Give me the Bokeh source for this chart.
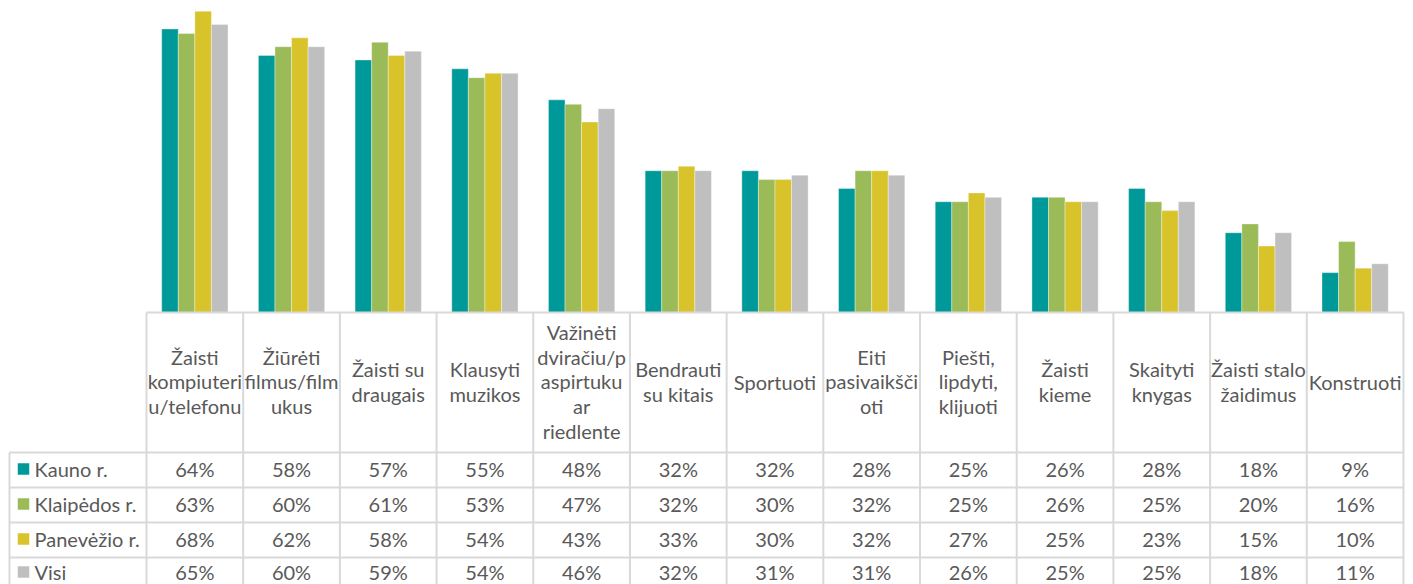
import numpy as np
from bokeh.plotting import figure
from bokeh.models import Range1d
from bokeh.core.properties import value
from bokeh.embed import file_html
from bokeh.resources import INLINE

categories = [
    "Žaisti\nkompiuteri\nu/telefonu",
    "Žiūrėti\nfilmus/film\nukus",
    "Žaisti su\ndraugais",
    "Klausyti\nmuzikos",
    "Važinėti\ndviračiu/p\naspirtuku\nar\nriedlente",
    "Bendrauti\nsu kitais",
    "Sportuoti",
    "Eiti\npasivaikšči\noti",
    "Piešti,\nlipdyti,\nklijuoti",
    "Žaisti\nkieme",
    "Skaityti\nknygas",
    "Žaisti stalo\nžaidimus",
    "Konstruoti",
]
series_names = ["Kauno r.", "Klaipėdos r.", "Panevėžio r.", "Visi"]
kauno = [64, 58, 57, 55, 48, 32, 32, 28, 25, 26, 28, 18, 9]
klaipedos = [63, 60, 61, 53, 47, 32, 30, 32, 25, 26, 25, 20, 16]
panevezio = [68, 62, 58, 54, 43, 33, 30, 32, 27, 25, 23, 15, 10]
visi = [65, 60, 59, 54, 46, 32, 31, 31, 26, 25, 25, 18, 11]
colors = ["#009999", "#9BBB59", "#D9C32A", "#BFBFBF"]

series = [kauno, klaipedos, panevezio, visi]

W, H = 1413, 584
col_w = 96.69                 # px per category column
left_px = 146                 # px from figure left to first column
x0 = -left_px / col_w
x1 = x0 + W / col_w
base_px = 312                 # baseline px from figure top
k = 4.43                      # px per percent
y0 = -(H - base_px) / k
y1 = base_px / k

FONT = value("Lato")
FS = "20px"
TXT = "#595959"
LINE = "#D9D9D9"

p = figure(width=W, height=H, x_range=Range1d(x0, x1), y_range=Range1d(y0, y1),
           output_backend="svg", toolbar_location=None,
           x_axis_type=None, y_axis_type=None, min_border=0)
p.outline_line_color = None
p.background_fill_color = "white"
p.border_fill_color = "white"
p.extra_y_ranges = {"tbl": Range1d(H, 0)}

n = len(categories)
idx = np.arange(n)
bw = 0.1714
for j, (vals, c) in enumerate(zip(series, colors)):
    xs = idx + 0.5 + (j - 1.5) * bw
    p.vbar(x=xs, top=vals, bottom=0, width=bw, fill_color=c,
           line_color="white", line_width=0.6, line_alpha=0.6)

# table geometry (in "tbl" pixel range)
header_top = base_px
row_h = 35
header_bot = 452
row_tops = [header_bot + i * row_h for i in range(len(series) + 1)]
label_left = x0 + 9 / col_w

# horizontal lines
p.segment(x0=[0], x1=[n], y0=[header_top], y1=[header_top], y_range_name="tbl",
          line_color=LINE, line_width=2)
p.segment(x0=[label_left] * len(row_tops), x1=[n] * len(row_tops),
          y0=row_tops, y1=row_tops, y_range_name="tbl", line_color=LINE, line_width=2)
# vertical lines
p.segment(x0=list(range(n + 1)), x1=list(range(n + 1)), y0=[header_top] * (n + 1),
          y1=[H + 20] * (n + 1), y_range_name="tbl", line_color=LINE, line_width=2)
p.segment(x0=[label_left], x1=[label_left], y0=[header_bot], y1=[H + 20],
          y_range_name="tbl", line_color=LINE, line_width=2)

# header labels
p.text(x=idx + 0.5, y=[(header_top + header_bot) / 2 - 1] * n, text=categories,
       y_range_name="tbl", text_font=FONT, text_font_size=FS, text_color=TXT,
       text_align="center", text_baseline="middle", text_line_height=1.04)

# rows
for r, (name, vals, c) in enumerate(zip(series_names, series, colors)):
    yc = min(row_tops[r] + row_h / 2 - 1, H - 12.5)
    p.scatter(x=[label_left + 14 / col_w], y=[yc], marker="square", size=11.5,
              fill_color=c, line_color=None, y_range_name="tbl")
    p.text(x=[label_left], y=[yc], text=[name], x_offset=25, y_range_name="tbl",
           text_font=FONT, text_font_size=FS, text_color=TXT,
           text_align="left", text_baseline="middle")
    p.text(x=idx + 0.5, y=[yc] * n, text=[f"{v}%" for v in vals], y_range_name="tbl",
           text_font=FONT, text_font_size=FS, text_color=TXT,
           text_align="center", text_baseline="middle")

open("out.html", "w").write(file_html(p, INLINE))
